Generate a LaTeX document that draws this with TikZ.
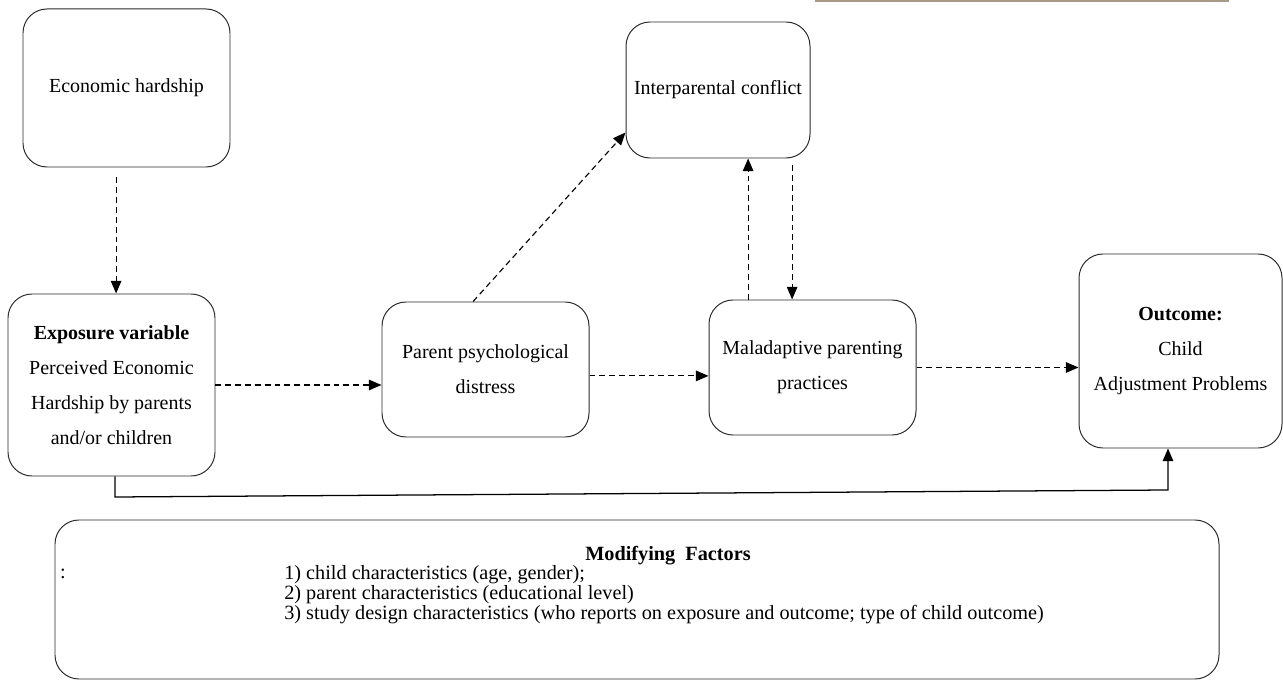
\documentclass[tikz,border=0pt]{standalone}
\usepackage{fontspec}
\setmainfont{Liberation Serif}
\definecolor{rulebrown}{HTML}{A89A86}
\definecolor{boxline}{HTML}{2B2B2B}
\usetikzlibrary{arrows.meta}

\begin{document}
\begin{tikzpicture}[
  every node/.style={font=\fontsize{14.2}{24.9}\selectfont},
  box/.style={rectangle, rounded corners=0.6cm, draw=boxline, line width=0.7pt,
              minimum width=5.175cm, align=center, inner sep=2pt},
  small/.style={font=\fontsize{14.4}{14.2}\selectfont, inner sep=0pt},
  arr/.style={-{Triangle[length=9pt,width=7.5pt]}, dash pattern=on 4.2pt off 2.8pt, line width=0.8pt},
  link/.style={-{Triangle[length=9pt,width=7.5pt]}, line width=0.9pt}
]
  \useasboundingbox (0,0) rectangle (32.075,17);
  \draw[rulebrown, line width=1.4pt] (20.375,16.975) -- (30.725,16.975);

  \node[box, minimum height=3.95cm] (econ) at (3.1625,14.8) {Economic hardship};
  \node[box, minimum width=4.6cm, minimum height=3.4cm] (conflict) at (17.95,14.75) {Interparental conflict};
  \node[box, minimum height=4.55cm] (expo) at (2.7875,7.375)
    {\textbf{Exposure variable}\\Perceived Economic\\Hardship by parents\\and/or children};
  \node[box, minimum height=3.375cm] (psych) at (12.1375,7.7625) {Parent psychological\\distress};
  \node[box, minimum height=3.375cm] (malad) at (20.3125,7.8125) {Maladaptive parenting\\practices};
  \node[box, minimum width=5.075cm, minimum height=4.85cm] (outcome) at (29.5125,8.225)
    {\textbf{Outcome:}\\Child\\Adjustment Problems};

  \node[box, minimum width=29.1cm, minimum height=3.975cm] (modif) at (15.925,2.0125) {};
  \node[small, font=\fontsize{14.4}{14.2}\selectfont\bfseries] (modtitle) at (16.7,3.12) {Modifying\ \ Factors};
  \node[small] (colon) at (1.575,2.66) {:};
  \node[small, anchor=west, align=left] (items) at (7.1,2.13)
    {1) child characteristics (age, gender);\\
     2) parent characteristics (educational level)\\
     3) study design characteristics (who reports on exposure and outcome; type of child outcome)};

  \draw[arr, shorten <=2.5mm] ([xshift=-2.6mm]econ.south) -- ([xshift=-2.6mm]econ.south |- expo.north);
  \draw[arr] (expo.east) -- (expo.east -| psych.west);
  \draw[arr] ([yshift=-1.6mm]psych.east) -- ([yshift=-1.6mm]psych.east -| malad.west);
  \draw[arr] (malad.east) -- (malad.east -| outcome.west);
  \draw[arr] ([xshift=-3.1mm]psych.north) -- ([yshift=6.5mm]conflict.south west);
  \draw[arr] ([xshift=-16.1mm]malad.north) -- ([xshift=-16.1mm]malad.north |- conflict.south);
  \draw[arr, shorten <=1.75mm] ([xshift=-5.1mm]malad.north |- conflict.south) -- ([xshift=-5.1mm]malad.north);

  \coordinate (bendL) at (2.875,4.575);
  \coordinate (bendR) at (29.2,4.75);
  \draw[link] (expo.south -| bendL) -- (bendL) -- (bendR) -- (bendR |- outcome.south);
\end{tikzpicture}
\end{document}
